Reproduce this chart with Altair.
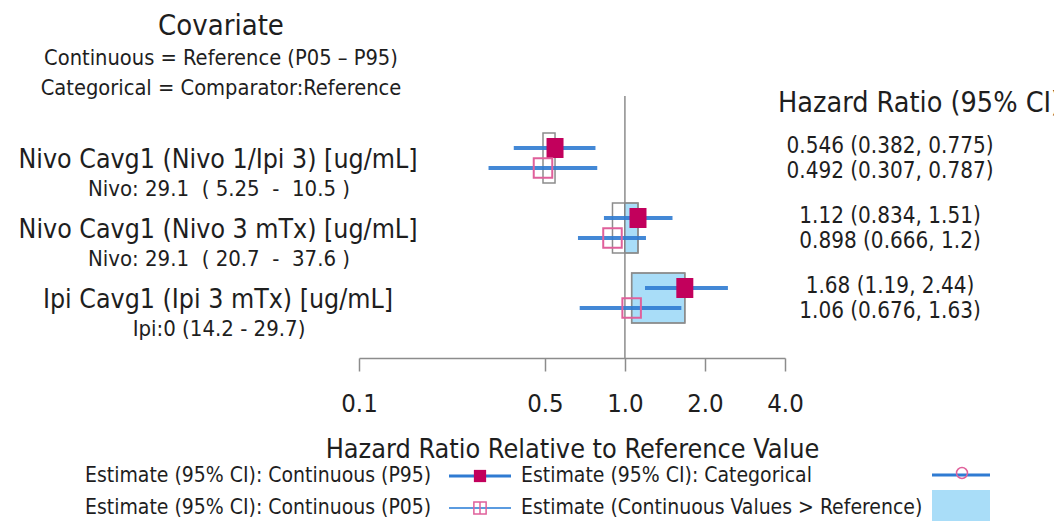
import altair as alt
import pandas as pd

# ---------------- data ----------------
covariates = [
    "Nivo Cavg1 (Nivo 1/Ipi 3) [ug/mL]",
    "Nivo Cavg1 (Nivo 3 mTx) [ug/mL]",
    "Ipi Cavg1 (Ipi 3 mTx) [ug/mL]",
]
reference_labels = [
    "Nivo: 29.1\u00a0\u00a0( 5.25\u00a0\u00a0-\u00a0\u00a010.5 )",
    "Nivo: 29.1\u00a0\u00a0( 20.7\u00a0\u00a0-\u00a0\u00a037.6 )",
    "Ipi:0 (14.2 - 29.7)",
]
p95_est = [0.546, 1.12, 1.68]
p95_lo = [0.382, 0.834, 1.19]
p95_hi = [0.775, 1.51, 2.44]
p05_est = [0.492, 0.898, 1.06]
p05_lo = [0.307, 0.666, 0.676]
p05_hi = [0.787, 1.2, 1.63]
tick_values = [0.1, 0.5, 1.0, 2.0, 4.0]
reference_value = 1.0

# ---------------- styles ----------------
FONT = "DejaVu Sans Condensed, DejaVu Sans"
TXT = "#1e1e1e"
MAGENTA = "#c2005c"
PINK = "#e0609b"
BLUE = "#2f7bd2"
LIGHT_BLUE = "#a9ddf8"
GRAY = "#8c8c8c"

df = pd.DataFrame({
    "row": list(range(1, len(covariates) + 1)),
    "covariate": covariates,
    "reflab": reference_labels,
    "p95": p95_est, "p95_lo": p95_lo, "p95_hi": p95_hi,
    "p05": p05_est, "p05_lo": p05_lo, "p05_hi": p05_hi,
})
df["box_lo"] = df[["p95", "p05"]].min(axis=1)
df["box_hi"] = df[["p95", "p05"]].max(axis=1)
df["above_lo"] = df["box_lo"].clip(lower=reference_value)
df["p95_text"] = [f"{e} ({l}, {h})" for e, l, h in zip(p95_est, p95_lo, p95_hi)]
df["p05_text"] = [f"{e} ({l}, {h})" for e, l, h in zip(p05_est, p05_lo, p05_hi)]
# vertical layout within each row (row units)
df["y_p95"] = df["row"] - 0.143
df["y_p05"] = df["row"] + 0.143
df["y_top"] = df["row"] - 0.357
df["y_bot"] = df["row"] + 0.357
df["y_main"] = df["row"] + 0.03
df["y_sub"] = df["row"] + 0.44
df["y_t95"] = df["row"] - 0.17
df["y_t05"] = df["row"] + 0.19
df_above = df[df["box_hi"] > reference_value]

xs = alt.Scale(type="log", domain=[0.1, 4], range=[359, 785])
ys = alt.Scale(domain=[-88 / 70, 270 / 70], range=[0, 358], nice=False, zero=False)

XAXIS = alt.Axis(
    values=tick_values, format=".1f", title="Hazard Ratio Relative to Reference Value",
    grid=False, tickSize=13, tickColor=GRAY, tickWidth=1.5,
    domainColor=GRAY, domainWidth=1.5,
    labelFont=FONT, labelFontSize=25.5, labelColor=TXT, labelPadding=20,
    labelFlush=False, labelOverlap=False,
    titleFont=FONT, titleFontSize=26.8, titleFontWeight="normal", titleColor=TXT,
    titleBaseline="alphabetic", titleY=99)


def X(f):
    return alt.X(f"{f}:Q", scale=xs, axis=XAXIS, title="Hazard Ratio Relative to Reference Value")


def Y(f):
    return alt.Y(f"{f}:Q", scale=ys, axis=None)


base = alt.Chart(df)
one = alt.Chart(pd.DataFrame({"ref": [reference_value]}))

ref_line = one.mark_rule(color=GRAY, strokeWidth=1.5).encode(
    x=X("ref"), y=alt.value(96), y2=alt.value(358))

fill = alt.Chart(df_above).mark_rect(color=LIGHT_BLUE, stroke="#777777", strokeWidth=1.2).encode(
    x=X("above_lo"), x2="box_hi:Q", y=Y("y_top"), y2="y_bot:Q")
outline = base.mark_rect(filled=False, color=GRAY, strokeWidth=1.5).encode(
    x=X("box_lo"), x2="box_hi:Q", y=Y("y_top"), y2="y_bot:Q")

ci95 = base.mark_rule(color=BLUE, strokeWidth=4, opacity=0.9).encode(
    x=X("p95_lo"), x2="p95_hi:Q", y=Y("y_p95"))
ci05 = base.mark_rule(color=BLUE, strokeWidth=4, opacity=0.9).encode(
    x=X("p05_lo"), x2="p05_hi:Q", y=Y("y_p05"))

SQ95 = "M-0.85,-1L0.85,-1L0.85,1L-0.85,1Z"
SQ05 = "M-0.95,-1L0.95,-1L0.95,1L-0.95,1Z"
pt95 = base.mark_point(shape=SQ95, filled=True, size=400, color=MAGENTA, opacity=1).encode(
    x=X("p95"), y=Y("y_p95"))
pt05 = base.mark_point(shape=SQ05, filled=False, size=380, color=PINK, strokeWidth=2, opacity=1).encode(
    x=X("p05"), y=Y("y_p05"))

main_lab = base.mark_text(font=FONT, fontSize=26.5, color=TXT, align="center", baseline="middle").encode(
    x=alt.value(218), y=Y("y_main"), text="covariate:N")
sub_lab = base.mark_text(font=FONT, fontSize=22, color=TXT, align="center", baseline="middle").encode(
    x=alt.value(219), y=Y("y_sub"), text="reflab:N")
t95 = base.mark_text(font=FONT, fontSize=22.3, color=TXT, align="center", baseline="middle").encode(
    x=alt.value(890), y=Y("y_t95"), text="p95_text:N")
t05 = base.mark_text(font=FONT, fontSize=22.3, color=TXT, align="center", baseline="middle").encode(
    x=alt.value(890), y=Y("y_t05"), text="p05_text:N")


def label(txt, x, y, size, align="center"):
    return one.mark_text(text=txt, font=FONT, fontSize=size, color=TXT, align=align,
                         baseline="middle").encode(x=alt.value(x), y=alt.value(y))


headers = [
    label("Covariate", 221, 26, 29),
    label("Continuous = Reference (P05 \u2013 P95)", 221, 58, 21.7),
    label("Categorical = Comparator:Reference", 221, 88, 21.7),
    label("Hazard Ratio (95% CI)", 778, 103, 28.5, "left"),
]

# ---------------- legend ----------------
legend = [
    label("Estimate (95% CI): Continuous (P95)", 85, 476, 21, "left"),
    label("Estimate (95% CI): Continuous (P05)", 85, 508, 21, "left"),
    label("Estimate (95% CI): Categorical", 521, 476, 21, "left"),
    label("Estimate (Continuous Values > Reference)", 521, 508, 21, "left"),
    one.mark_rule(color=BLUE, strokeWidth=3).encode(x=alt.value(449), x2=alt.value(511), y=alt.value(476)),
    one.mark_point(shape="square", filled=True, color=MAGENTA, size=150, opacity=1).encode(
        x=alt.value(480), y=alt.value(476)),
    one.mark_rule(color="#5b9be0", strokeWidth=2).encode(x=alt.value(449), x2=alt.value(511), y=alt.value(508)),
    one.mark_point(shape="square", filled=False, color=PINK, size=150, strokeWidth=1.5, opacity=1).encode(
        x=alt.value(480), y=alt.value(508)),
    one.mark_rule(color=PINK, strokeWidth=1.5).encode(x=alt.value(480), y=alt.value(502), y2=alt.value(514)),
    one.mark_rule(color=BLUE, strokeWidth=3).encode(x=alt.value(932), x2=alt.value(990), y=alt.value(475)),
    one.mark_point(shape="circle", filled=False, color=PINK, size=120, strokeWidth=1.5, opacity=1).encode(
        x=alt.value(962), y=alt.value(473)),
    one.mark_rect(color=LIGHT_BLUE).encode(x=alt.value(932), x2=alt.value(990), y=alt.value(490), y2=alt.value(521)),
]

chart = alt.layer(
    ref_line, fill, outline, ci95, ci05, pt95, pt05,
    main_lab, sub_lab, t95, t05, *headers, *legend,
).properties(
    width=1054, height=358,
    padding={"left": 0, "right": 0, "top": 0, "bottom": 163},
    autosize=alt.AutoSizeParams(type="none"),
    background="white",
).configure_view(stroke=None)

chart.save("out.html", embed_options={"renderer": "svg", "actions": False})
